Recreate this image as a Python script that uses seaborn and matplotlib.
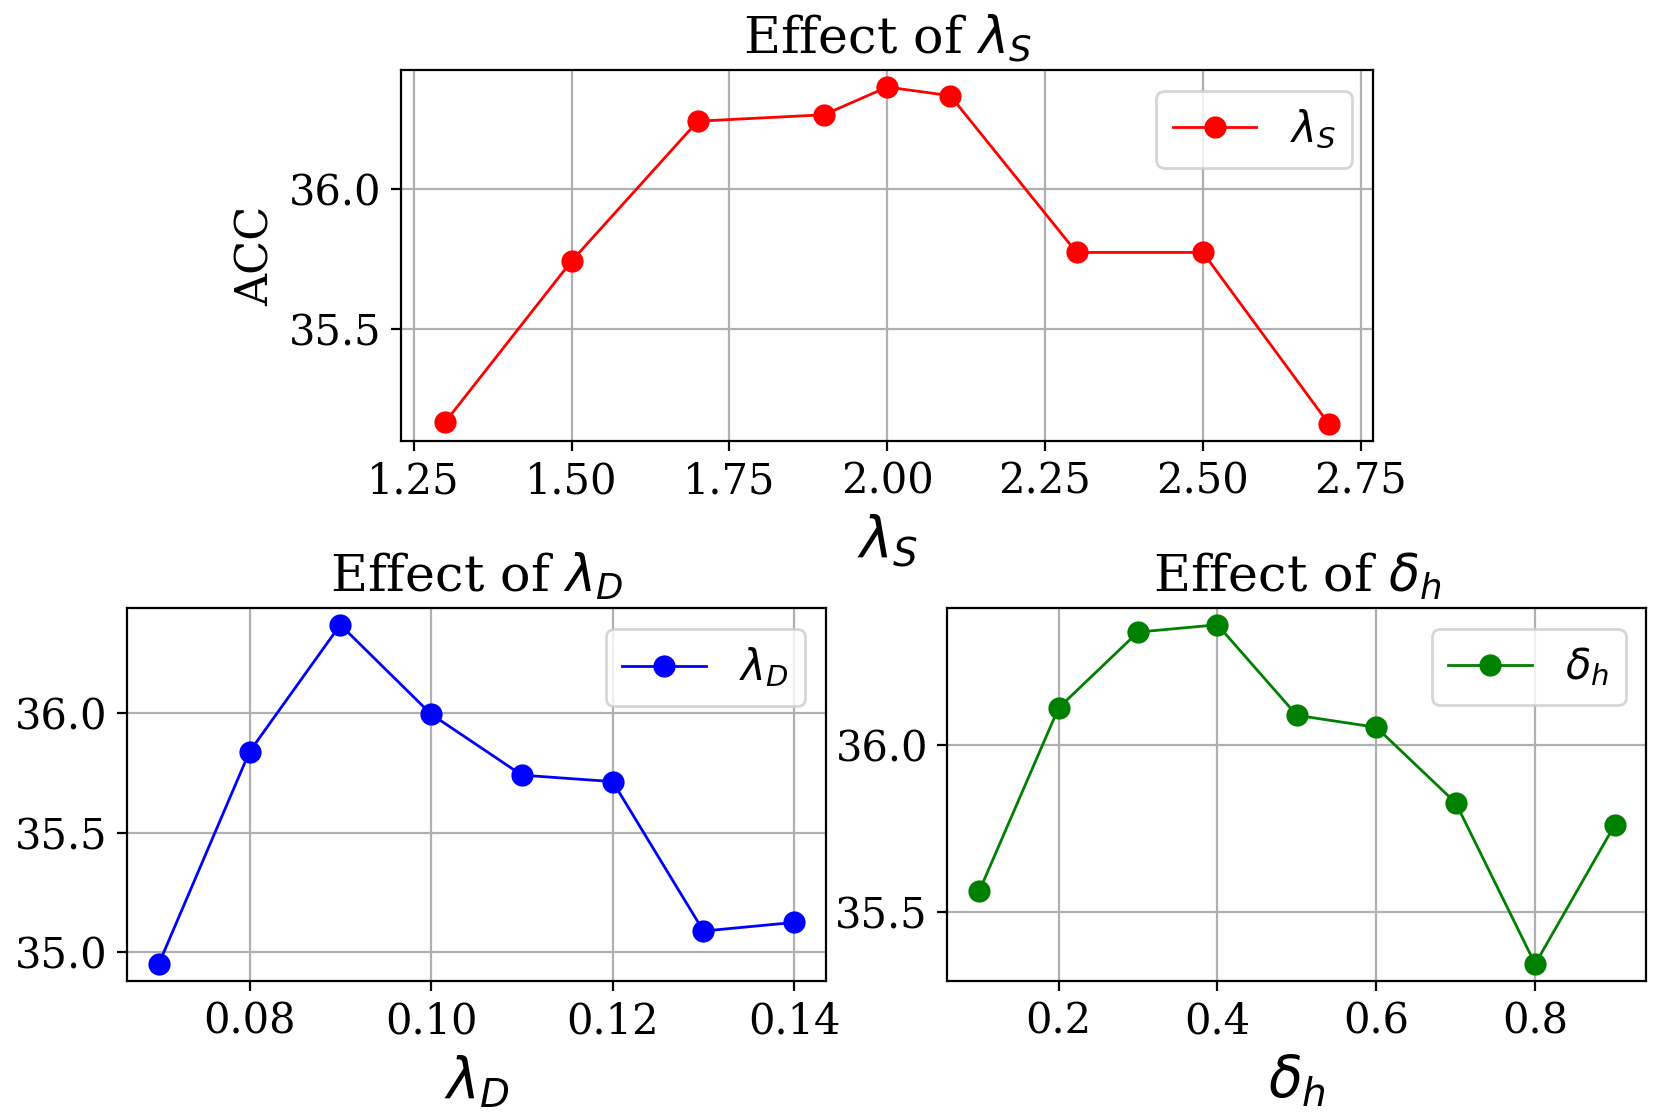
import matplotlib
matplotlib.use("Agg")
import matplotlib.pyplot as plt
import seaborn as sns
import pandas as pd

# lambda_S sweep
lam_s = [1.3, 1.5, 1.7, 1.9, 2.0, 2.1, 2.3, 2.5, 2.7]
acc_s = [35.167, 35.742, 36.242, 36.265, 36.364, 36.333, 35.773, 35.773, 35.159]

# lambda_D sweep
lam_d = [0.07, 0.08, 0.09, 0.10, 0.11, 0.12, 0.13, 0.14]
acc_d = [34.951, 35.839, 36.370, 35.996, 35.741, 35.714, 35.089, 35.125]

# delta_h sweep
delta_h = [0.1, 0.2, 0.3, 0.4, 0.5, 0.6, 0.7, 0.8, 0.9]
acc_h = [35.561, 36.112, 36.340, 36.362, 36.090, 36.054, 35.827, 35.343, 35.760]

plt.rcParams['font.family'] = ['DejaVu Serif']
plt.rcParams['mathtext.fontset'] = 'dejavusans'

fig = plt.figure(figsize=(8.31, 5.57), dpi=200)
ax_top = fig.add_axes([0.2413, 0.604, 0.585, 0.333])
ax_bl = fig.add_axes([0.0764, 0.1194, 0.4206, 0.335])
ax_br = fig.add_axes([0.570, 0.1194, 0.4206, 0.335])

def draw(ax, x, y, color, sym, ylabel=None):
    df = pd.DataFrame({'x': x, 'y': y})
    sns.lineplot(data=df, x='x', y='y', ax=ax, color=color, marker='o',
                 markersize=8, markeredgewidth=0, linewidth=1.0, label=sym)
    ax.grid(True, color='#b0b0b0', linewidth=0.8)
    ax.set_title('Effect of ' + sym, fontsize=18.25)
    ax.set_xlabel(sym, fontsize=20)
    ax.set_ylabel(ylabel if ylabel else '', fontsize=16)
    ax.tick_params(labelsize=15)
    ax.legend(loc='upper right', fontsize=15)

draw(ax_top, lam_s, acc_s, 'red', r'$\lambda_S$', 'ACC')
ax_top.set_yticks([35.5, 36.0])
draw(ax_bl, lam_d, acc_d, 'blue', r'$\lambda_D$')
ax_bl.set_xticks([0.08, 0.10, 0.12, 0.14])
ax_bl.set_yticks([35.0, 35.5, 36.0])
draw(ax_br, delta_h, acc_h, 'green', r'$\delta_h$')
ax_br.set_xticks([0.2, 0.4, 0.6, 0.8])
ax_br.set_yticks([35.5, 36.0])

fig.savefig('out.png', dpi=200)
